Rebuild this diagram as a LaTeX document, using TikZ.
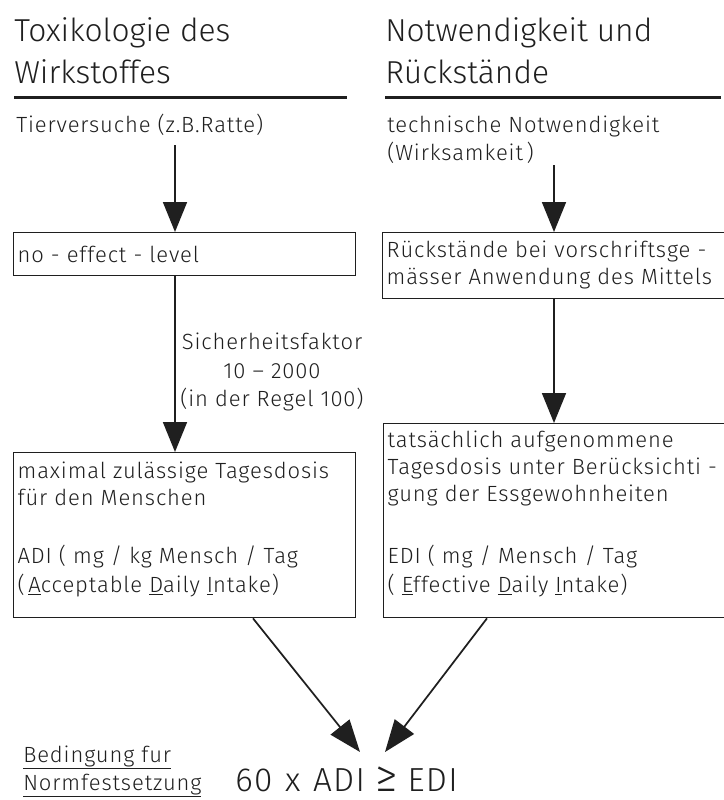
\documentclass[tikz,border=0pt]{standalone}
\usepackage{fontspec}
\setmainfont[LetterSpace=4]{Fira Sans Light}
\newfontfamily\titlefont{Fira Sans Light}
\usetikzlibrary{arrows.meta}
\definecolor{ink}{gray}{0.12}
\newcommand\boxcontent[4]{\parbox[c][#1][t]{#2}{\raggedright\leftskip=3pt\vspace*{#3}\strut #4}}
\begin{document}
\begin{tikzpicture}[x=0.75pt,y=-0.75pt,
  every node/.style={inner sep=0pt, text=ink},
  ttl/.style={font=\titlefont\fontsize{23.8}{28}\selectfont, anchor=base west},
  txt/.style={font=\fontsize{16.5}{20.25}\selectfont, anchor=base west},
  lbl/.style={font=\fontsize{16.5}{21.4}\selectfont, align=center},
  box/.style={draw=ink, line width=1pt, anchor=north west, inner sep=0pt, font=\fontsize{16.5}{20.25}\selectfont},
  arr/.style={draw=ink, line width=1.3pt, -{Triangle[length=22.5pt,width=18pt]}},
  bigarr/.style={draw=ink, line width=1.3pt, -{Triangle[length=24pt,width=18pt]}},
  rule/.style={draw=ink, line width=2.25pt},
  formula/.style={font=\fontsize{25}{30}\selectfont, anchor=base west}
]
\fill[white] (0,0) rectangle (724,800);
\useasboundingbox (0,0) rectangle (724,800);

% headings
\node[ttl] (t1a) at (14,41) {Toxikologie des};
\node[ttl] (t1b) at (14,83) {Wirkstoffes};
\node[ttl] (t2a) at (385,41) {Notwendigkeit und};
\node[ttl] (t2b) at (385,83) {Rückstände};
\draw[rule] (14,97) -- (347,97);
\draw[rule] (385,97) -- (721,97);

% first texts
\node[txt] (tier) at (16,132) {Tierversuche (z.B.Ratte)};
\node[txt] (tech) at (387,132) {technische Notwendigkeit};
\node[txt] (wirk) at (387,160) {(Wirksamkeit\,)};

% boxes
\node[box] (L1) at (13,232) {\boxcontent{32.25pt}{256.5pt}{8.3pt}{no - effect - level}};
\node[box] (R1) at (382,232) {\boxcontent{49.5pt}{258pt}{4.6pt}{Rückstände bei vorschriftsge -\\ mässer Anwendung des Mittels}};
\node[box] (L2) at (13,452) {\boxcontent{123.75pt}{256.5pt}{5.3pt}{maximal zulässige Tagesdosis\\ für den Menschen\\[23.25pt] ADI ( mg / kg Mensch / Tag\\[1.5pt] (\,\underline{A}cceptable \underline{D}aily \underline{I}ntake)}};
\node[box] (R2) at (383,423) {\boxcontent{145.5pt}{257.25pt}{3.8pt}{tatsächlich aufgenommene\\ Tagesdosis unter Berücksichti -\\ gung der Essgewohnheiten\\[26.25pt] EDI ( mg / Mensch / Tag\\[1.5pt] ( \underline{E}ffective \underline{D}aily \underline{I}ntake)}};

% vertical arrows
\coordinate (s1) at (175,145);
\coordinate (s2) at (554,165);
\draw[arr] (s1) -- (s1 |- L1.north);
\draw[arr] (L1.south -| s1) -- (L2.north -| s1);
\draw[arr] (s2) -- (s2 |- R1.north);
\draw[arr] (R1.south -| s2) -- (R2.north -| s2);
\node[lbl] (sf) at (272,372) {Sicherheitsfaktor\\ 10 – 2000\\ (in der Regel 100)};

% converging arrows
\coordinate (xL) at (253,0);
\coordinate (xR) at (487,0);
\coordinate (tipL) at (360,752);
\coordinate (tipR) at (385,752);
\draw[bigarr] (xL |- L2.south) -- (tipL);
\draw[bigarr] (xR |- R2.south) -- (tipR);

% condition
\node[txt] (bed) at (23,762) {\underline{Bedingung fur}};
\node[txt] (norm) at (23,790) {\underline{Normfestsetzung}};
\node[formula] (form) at (235,791) {60\hspace{0.38em}x\hspace{0.38em}ADI\hspace{0.3em}{\fontsize{34}{34}\selectfont ≥}\hspace{0.3em}EDI};
\end{tikzpicture}
\end{document}
